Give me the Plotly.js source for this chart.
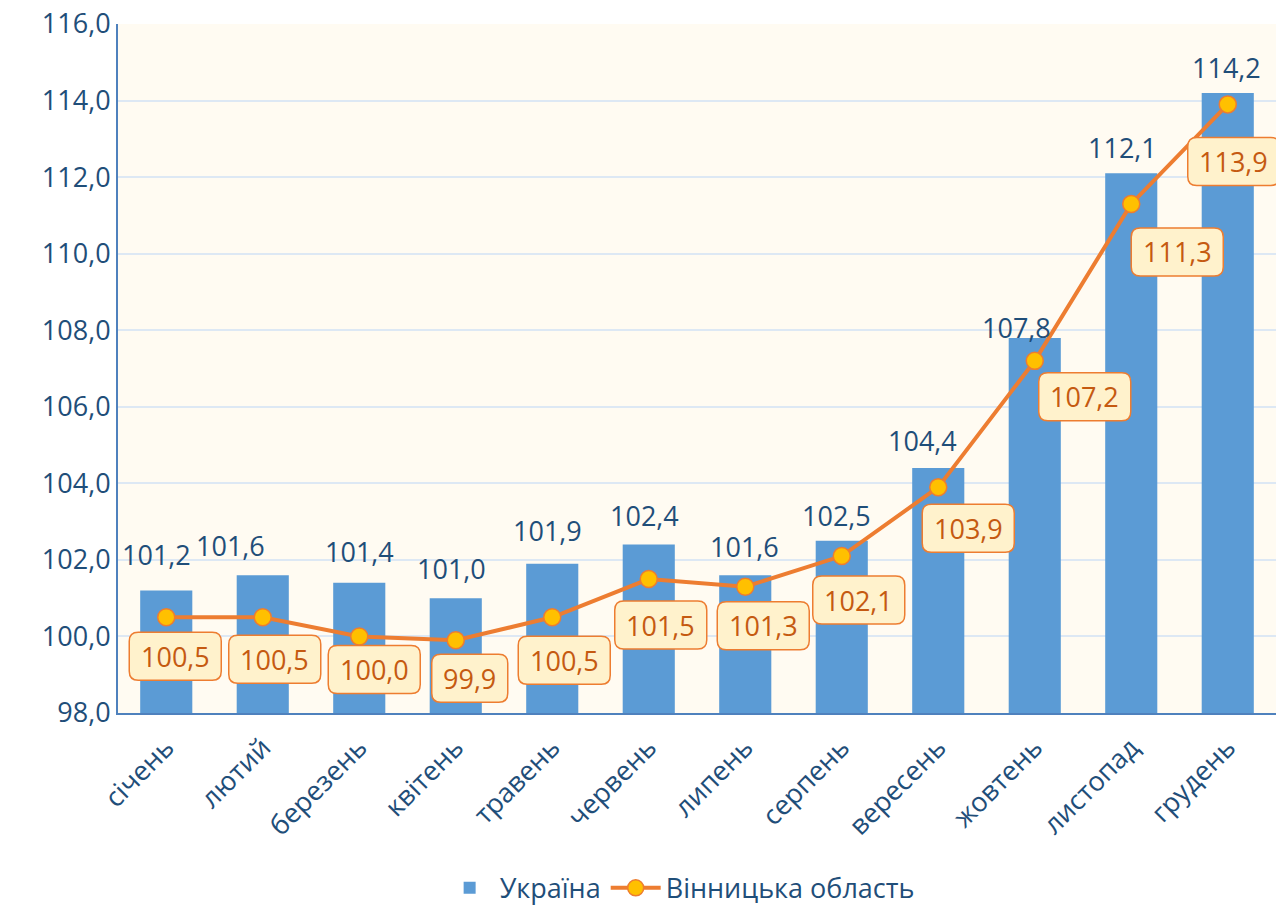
<!DOCTYPE html>
<html>
<head>
<meta charset="utf-8">
<script src="https://cdn.plot.ly/plotly-3.0.1.min.js"></script>
<style>
  html, body { margin: 0; padding: 0; background: #ffffff; }
  #chart { width: 1276px; height: 912px; }
</style>
</head>
<body>
<div id="chart"></div>
<script>
'use strict'

var months = ["січень", "лютий", "березень", "квітень", "травень", "червень",
              "липень", "серпень", "вересень", "жовтень", "листопад", "грудень"];
var ukraine = [101.2, 101.6, 101.4, 101.0, 101.9, 102.4, 101.6, 102.5, 104.4, 107.8, 112.1, 114.2];
var vinnytsia = [100.5, 100.5, 100.0, 99.9, 100.5, 101.5, 101.3, 102.1, 103.9, 107.2, 111.3, 113.9];

// label offsets in pixels (manual placement as in the original)
var barLabelShift = [[-10, 36], [-32, 30], [0, 31], [-4, 30], [-5, 33], [-4, 29],
                     [-1, 29], [-5, 25], [-16, 28], [-18, 10], [-9, 26], [-1, 25]];
var lineLabelShift = [[9, -39], [12, -42], [15, -33], [14, -38], [12, -43], [12, -46],
                      [18, -39], [17, -44], [30, -41], [50, -36], [46, -48], [6, -57]];

var fontFam = "Open Sans, sans-serif";
var darkBlue = "#1F4E79";
var fs = 27;

function fmt(v){
    return v.toFixed(1).replace(".", ",");
}

// rounded box path in pixels around (cx, cy)
function roundBox(cx, cy, w, h, r){
    var x0 = cx - w/2, x1 = cx + w/2, y0 = cy - h/2, y1 = cy + h/2;
    return "M" + (x0+r) + "," + y0 + " L" + (x1-r) + "," + y0 +
           " Q" + x1 + "," + y0 + " " + x1 + "," + (y0+r) +
           " L" + x1 + "," + (y1-r) +
           " Q" + x1 + "," + y1 + " " + (x1-r) + "," + y1 +
           " L" + (x0+r) + "," + y1 +
           " Q" + x0 + "," + y1 + " " + x0 + "," + (y1-r) +
           " L" + x0 + "," + (y0+r) +
           " Q" + x0 + "," + y0 + " " + (x0+r) + "," + y0 + " Z";
}

var annotations = [];
var shapes = [];
for(var i = 0; i < months.length; i++){
    annotations.push({
        x: months[i], y: ukraine[i], xref: "x", yref: "y",
        text: fmt(ukraine[i]), showarrow: false,
        yanchor: "middle", xanchor: "center",
        xshift: barLabelShift[i][0], yshift: barLabelShift[i][1],
        font: {family: fontFam, size: fs, color: darkBlue}
    });
    var txt = fmt(vinnytsia[i]);
    shapes.push({
        type: "path", layer: "above",
        xref: "x", yref: "y",
        xsizemode: "pixel", ysizemode: "pixel",
        xanchor: months[i], yanchor: vinnytsia[i],
        path: roundBox(lineLabelShift[i][0], lineLabelShift[i][1], txt.length * 16 + 12, 48, 9),
        fillcolor: "#FFF2CC",
        line: {color: "#ED7D31", width: 1.5}
    });
    annotations.push({
        x: months[i], y: vinnytsia[i], xref: "x", yref: "y",
        text: txt, showarrow: false,
        yanchor: "middle", xanchor: "center",
        xshift: lineLabelShift[i][0], yshift: lineLabelShift[i][1],
        font: {family: fontFam, size: fs, color: "#C55A11"}
    });
}

var barTrace = {
    type: "bar",
    name: "Україна",
    x: months,
    y: ukraine,
    marker: {color: "#5B9BD5"},
    width: 0.54,
    hoverinfo: "skip"
};

var lineTrace = {
    type: "scatter",
    mode: "lines+markers",
    name: "Вінницька область",
    x: months,
    y: vinnytsia,
    line: {color: "#ED7D31", width: 4},
    marker: {color: "#FFC000", size: 17, line: {color: "#ED7D31", width: 1.5}},
    hoverinfo: "skip"
};

var layout = {
    width: 1276,
    height: 912,
    margin: {l: 118, r: 0, t: 24, b: 199},
    paper_bgcolor: "#ffffff",
    plot_bgcolor: "#FFFBF2",
    separators: ", ",
    font: {family: fontFam, size: fs, color: darkBlue},
    showlegend: true,
    xaxis: {
        type: "category",
        range: [-0.5, 11.5],
        automargin: false,
        tickangle: -45,
        ticklabelstandoff: 6,
        showline: true,
        linecolor: "#4F81BD",
        linewidth: 2,
        showgrid: false,
        ticks: "",
        tickfont: {family: fontFam, size: fs, color: darkBlue}
    },
    yaxis: {
        range: [98, 116],
        dtick: 2,
        tickformat: ".1f",
        automargin: false,
        showline: true,
        linecolor: "#4F81BD",
        linewidth: 2,
        gridcolor: "#DDE8F4",
        gridwidth: 1.5,
        zeroline: false,
        ticks: "",
        tickfont: {family: fontFam, size: fs, color: darkBlue}
    },
    legend: {
        orientation: "h",
        x: 0.485,
        xanchor: "center",
        yref: "container",
        y: 0.026,
        yanchor: "middle",
        itemwidth: 50,
        font: {family: fontFam, size: fs, color: darkBlue},
        bgcolor: "rgba(0,0,0,0)"
    },
    shapes: shapes,
    annotations: annotations
};

Plotly.newPlot("chart", [barTrace, lineTrace], layout, {displayModeBar: false});
</script>
</body>
</html>
